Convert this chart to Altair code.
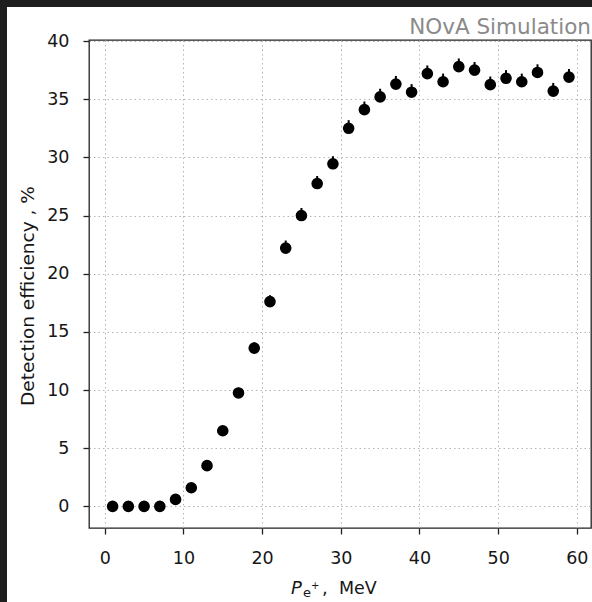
import altair as alt
import pandas as pd

# ---- data ----
p_mev = [1, 3, 5, 7, 9, 11, 13, 15, 17, 19, 21, 23, 25, 27, 29,
         31, 33, 35, 37, 39, 41, 43, 45, 47, 49, 51, 53, 55, 57, 59]
efficiency = [0.0, 0.0, 0.0, 0.0, 0.6, 1.6, 3.5, 6.5, 9.75, 13.6, 17.6, 22.2, 25.0, 27.75, 29.45,
              32.5, 34.1, 35.2, 36.3, 35.6, 37.2, 36.5, 37.8, 37.5, 36.25, 36.8, 36.5, 37.3, 35.7, 36.9]
err_up = [0.0, 0.0, 0.0, 0.0, 0.25, 0.3, 0.35, 0.4, 0.45, 0.5, 0.55, 0.65, 0.65, 0.65, 0.65,
          0.7, 0.7, 0.7, 0.7, 0.7, 0.7, 0.7, 0.7, 0.7, 0.7, 0.7, 0.7, 0.7, 0.7, 0.7]
x_ticks = [0, 10, 20, 30, 40, 50, 60]
y_ticks = [0, 5, 10, 15, 20, 25, 30, 35, 40]

df = pd.DataFrame({
    "p": p_mev,
    "eff": efficiency,
    "hi": [e + u for e, u in zip(efficiency, err_up)],
})

W, H = 502, 488
PAD_L, PAD_T = 89, 40
FONT = "DejaVu Sans"
INK = "#161616"

xs = alt.Scale(domain=[-2.0, 61.8], nice=False, zero=False)
ys = alt.Scale(domain=[-1.86, 40.09], nice=False, zero=False)

grid_kw = dict(grid=True, gridColor="#b5b5b5", gridDash=[1.5, 3], gridWidth=1,
               domain=False, ticks=True, tickColor="#222222", tickSize=6, tickWidth=1.3,
               labelFont=FONT, labelFontSize=17.5, labelColor=INK, title=None)

x_axis = alt.Axis(values=x_ticks, labelPadding=15, **grid_kw)
y_axis = alt.Axis(values=y_ticks, labelPadding=14, **grid_kw)

base = alt.Chart(df)

points = base.mark_circle(size=135, color="black", opacity=1).encode(
    x=alt.X("p:Q", scale=xs, axis=x_axis),
    y=alt.Y("eff:Q", scale=ys, axis=y_axis),
)

errs = base.mark_rule(color="black", strokeWidth=2).encode(
    x="p:Q",
    y="eff:Q",
    y2="hi:Q",
)

one = alt.Data(values=[{"a": 1}])

# dark frame strips (top and left)
dark_top = alt.Chart(one).mark_rect(color="#1e1e1e").encode(
    x=alt.value(-PAD_L), x2=alt.value(592 - PAD_L),
    y=alt.value(-PAD_T), y2=alt.value(7 - PAD_T),
)
dark_left = alt.Chart(one).mark_rect(color="#1e1e1e").encode(
    x=alt.value(-PAD_L), x2=alt.value(7 - PAD_L),
    y=alt.value(-PAD_T), y2=alt.value(602 - PAD_T),
)

title = alt.Chart(one).mark_text(
    text="NOvA Simulation", font=FONT, fontSize=21.5, color="#8a8a8a",
    align="right", baseline="alphabetic",
).encode(x=alt.value(591 - PAD_L), y=alt.value(34 - PAD_T))

y_title = alt.Chart(one).mark_text(
    text="Detection efficiency , %", font=FONT, fontSize=18.5, color=INK,
    align="center", baseline="middle", angle=270,
).encode(x=alt.value(28 - PAD_L), y=alt.value(296 - PAD_T))

base_y = 594 - PAD_T
xt_p = alt.Chart(one).mark_text(
    text="P", font=FONT, fontSize=18, fontStyle="italic", color=INK,
    align="left", baseline="alphabetic",
).encode(x=alt.value(291 - PAD_L), y=alt.value(base_y))
xt_e = alt.Chart(one).mark_text(
    text="e", font=FONT, fontSize=13, color=INK,
    align="left", baseline="alphabetic",
).encode(x=alt.value(303 - PAD_L), y=alt.value(base_y + 3))
xt_plus = alt.Chart(one).mark_text(
    text="+", font=FONT, fontSize=10, color=INK,
    align="left", baseline="alphabetic",
).encode(x=alt.value(311 - PAD_L), y=alt.value(base_y - 5))
xt_comma = alt.Chart(one).mark_text(
    text=",", font=FONT, fontSize=18, color=INK,
    align="left", baseline="alphabetic",
).encode(x=alt.value(322 - PAD_L), y=alt.value(base_y))
xt_mev = alt.Chart(one).mark_text(
    text="MeV", font=FONT, fontSize=17.5, color=INK,
    align="left", baseline="alphabetic",
).encode(x=alt.value(339 - PAD_L), y=alt.value(base_y))

chart = alt.layer(
    points, errs, dark_top, dark_left, title, y_title,
    xt_p, xt_e, xt_plus, xt_comma, xt_mev
).properties(
    width=W, height=H,
    autosize=alt.AutoSizeParams(type="none"),
    padding={"left": PAD_L, "top": PAD_T, "right": 592 - PAD_L - W, "bottom": 602 - PAD_T - H},
    background="white",
).configure_view(stroke="#222222", strokeWidth=1.3)

chart.save("out.html", embed_options={"renderer": "svg", "actions": False})
